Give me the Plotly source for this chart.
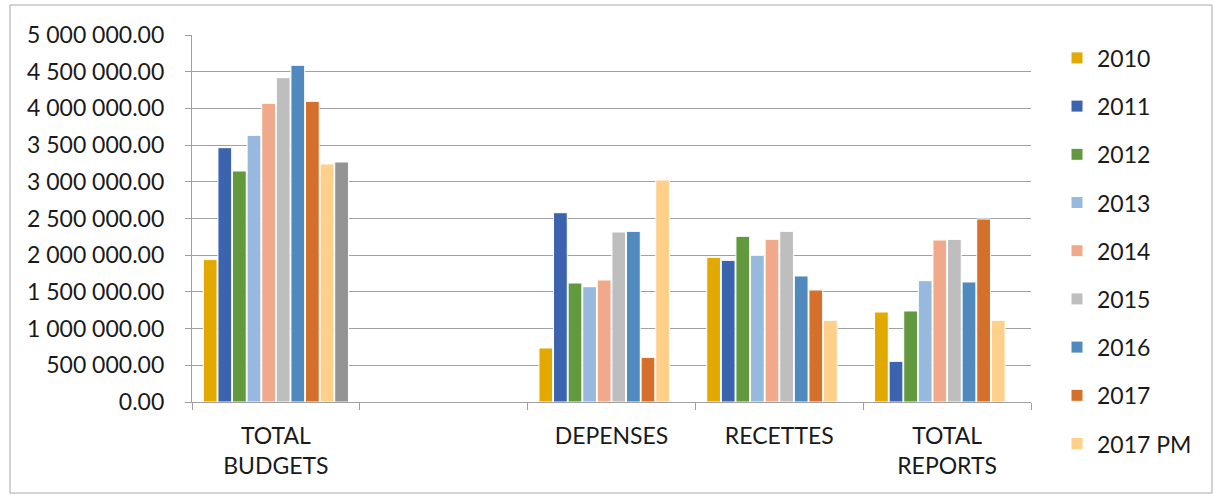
import plotly.graph_objects as go

categories = ["TOTAL BUDGETS", " ", "DEPENSES", "RECETTES", "TOTAL REPORTS"]
category_labels = ["TOTAL<br>BUDGETS", "", "DEPENSES", "RECETTES", "TOTAL<br>REPORTS"]

series_names = ["2010", "2011", "2012", "2013", "2014", "2015", "2016", "2017", "2017 PM"]
series_values = {
    "2010":    [1940000, None, 736000, 1971000, 1226000],
    "2011":    [3465000, None, 2579000, 1930000, 554000],
    "2012":    [3147000, None, 1621000, 2257000, 1240000],
    "2013":    [3633000, None, 1571000, 1998000, 1653000],
    "2014":    [4069000, None, 1662000, 2216000, 2207000],
    "2015":    [4419000, None, 2316000, 2325000, 2216000],
    "2016":    [4587000, None, 2325000, 1717000, 1635000],
    "2017":    [4096000, None, 609000, 1526000, 2493000],
    "2017 PM": [3243000, None, 3025000, 1113000, 1113000],
}
extra_series = [3270000, None, None, None, None]

colors = {
    "2010": "#E2AA00",
    "2011": "#3C64AE",
    "2012": "#62993E",
    "2013": "#98B9DE",
    "2014": "#F0A98A",
    "2015": "#BEBEBE",
    "2016": "#4F89BD",
    "2017": "#D4702C",
    "2017 PM": "#FFD08A",
}
extra_color = "#949494"

y_ticks = [0, 500000, 1000000, 1500000, 2000000, 2500000, 3000000,
           3500000, 4000000, 4500000, 5000000]

fig = go.Figure()
for name in series_names:
    fig.add_trace(go.Bar(
        x=categories, y=series_values[name], name=name,
        legendgroup=name,
        marker=dict(color=colors[name], line=dict(color="white", width=1)),
    ))
fig.add_trace(go.Bar(
    x=categories, y=extra_series, name="Série 10", showlegend=False,
    marker=dict(color=extra_color, line=dict(color="white", width=1)),
))

font_family = "Lato, 'Open Sans', sans-serif"

fig.update_layout(
    width=1215, height=495,
    margin=dict(l=192, r=184, t=35, b=93),
    paper_bgcolor="white", plot_bgcolor="white",
    barmode="group", bargap=0.13, bargroupgap=0.06,
    separators=". ",
    font=dict(family=font_family, size=23, color="#1a1a1a"),
    showlegend=True,
    legend=dict(
        x=1.031, y=0.996, xanchor="left", yanchor="top",
        font=dict(size=23, color="#1a1a1a"),
        tracegroupgap=15.3, itemwidth=30,
        maxheight=480,
        bgcolor="rgba(0,0,0,0)",
    ),
    xaxis=dict(
        type="category",
        categoryorder="array", categoryarray=categories,
        tickmode="array", tickvals=categories, ticktext=category_labels,
        tickson="boundaries", ticks="outside", ticklen=7,
        tickcolor="#A0A0A0",
        ticklabelstandoff=13,
        showline=True, linecolor="#A0A0A0", linewidth=1.3,
        showgrid=False,
        tickfont=dict(size=23),
    ),
    yaxis=dict(
        range=[0, 5000000],
        tickmode="array", tickvals=y_ticks,
        tickformat=",.2f",
        ticks="outside", ticklen=6, tickcolor="#A0A0A0",
        ticklabelstandoff=16,
        showline=True, linecolor="#A0A0A0", linewidth=1.3,
        showgrid=True, gridcolor="#A0A0A0", gridwidth=1.3,
        zeroline=False,
        tickfont=dict(size=23),
    ),
    shapes=[dict(
        type="rect", xref="paper", yref="paper",
        x0=(10 - 192) / 839, x1=(1212 - 192) / 839,
        y0=(402 - 493) / 367, y1=(402 - 5) / 367,
        line=dict(color="#A6A6A6", width=1),
        fillcolor="rgba(0,0,0,0)", layer="below",
    )],
)

fig.write_html("out.html")
